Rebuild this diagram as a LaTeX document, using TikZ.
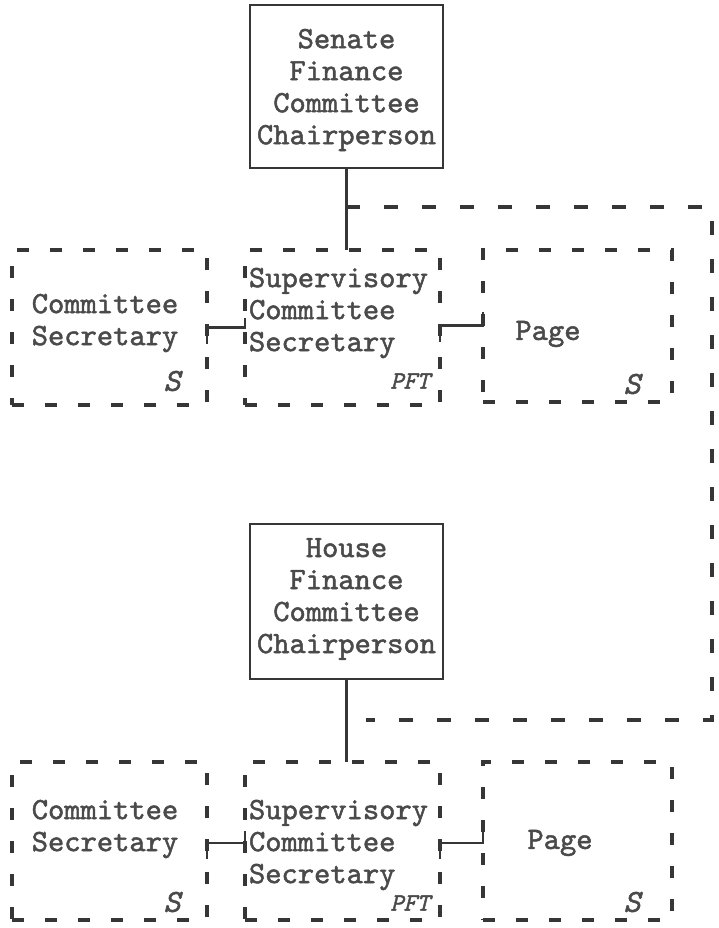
\documentclass[tikz,border=0pt]{standalone}
\usepackage{fontspec}
\newfontfamily\tw{lmmono10-regular.otf}[FakeBold=1.6, ItalicFont=lmmono10-italic.otf, ItalicFeatures={FakeBold=1.6}]
\definecolor{linec}{HTML}{363636}
\definecolor{txtc}{HTML}{4A4A4A}
\begin{document}
\begin{tikzpicture}[x=1pt,y=-1pt,
  every node/.style={inner sep=0pt, outer sep=0pt},
  chairbox/.style={draw=linec, line width=2.8pt, minimum width=193pt},
  unitbox/.style={draw=linec, line width=3.1pt, dash pattern=on 12pt off 21pt},
  txt/.style={text=txtc, font=\tw\fontsize{31}{32}\selectfont},
  tag/.style={text=txtc, font=\tw\fontsize{32}{32}\selectfont\itshape},
  smalltag/.style={text=txtc, font=\tw\fontsize{25}{25}\selectfont\itshape},
  conn/.style={draw=linec, line width=2.8pt},
  loopdash/.style={draw=linec, line width=3.1pt, dash pattern=on 14pt off 24pt}
]
\useasboundingbox (0,0) rectangle (719,928);

% Senate
\node[chairbox, minimum height=163pt] (senate) at (346.5,86.5) {};
\node[txt, align=center] (senatet) at (346.5,90) {Senate\\Finance\\Committee\\Chairperson};

\node[unitbox, minimum width=195pt, minimum height=155pt] (sA) at (109.5,327.5) {};
\node[unitbox, minimum width=195pt, minimum height=155pt] (sB) at (342.5,327.5) {};
\node[unitbox, minimum width=189pt, minimum height=152pt] (sC) at (577.5,326) {};

\node[txt, align=center] (sAt) at (105,323) {Committee\\Secretary};
\node[txt, align=left, anchor=west] (sBt) at (249,313) {Supervisory\\Committee\\Secretary};
\node[txt] (sCt) at (548,334) {Page};
\node[tag] (sAs) at (172,381) {S};
\node[smalltag] (sBs) at (410,381) {PFT};
\node[tag] (sCs) at (632,384) {S};

\draw[conn] (senate.south) -- (senate.south |- sB.north);
\draw[conn] ([yshift=-16pt]sA.east) -- (sA.east) -- (sB.west) -- ([yshift=10pt]sB.west);
\draw[conn] ([yshift=-14pt]sB.east) -- ([yshift=2pt]sB.east) -- ([yshift=2pt]sB.east -| sC.west) -- ([yshift=16pt]sB.east -| sC.west);

\coordinate (t1) at (346,207);
\coordinate (t2) at (712,207);
\coordinate (t3) at (712,720);
\coordinate (t4) at (366,720);
\draw[loopdash] (t1) -- (t2) -- (t3) -- (t4);

% House
\node[chairbox, minimum height=155pt] (house) at (346.5,601.5) {};
\node[txt, align=center] (houset) at (346.5,599) {House\\Finance\\Committee\\Chairperson};

\node[unitbox, minimum width=195pt, minimum height=158pt] (hA) at (109.5,841) {};
\node[unitbox, minimum width=195pt, minimum height=158pt] (hB) at (342.5,841) {};
\node[unitbox, minimum width=189pt, minimum height=158pt] (hC) at (577.5,841) {};

\node[txt, align=center] (hAt) at (105,829) {Committee\\Secretary};
\node[txt, align=left, anchor=west] (hBt) at (249,845) {Supervisory\\Committee\\Secretary};
\node[txt] (hCt) at (560,843) {Page};
\node[tag] (hAs) at (172,902) {S};
\node[smalltag] (hBs) at (410,903) {PFT};
\node[tag] (hCs) at (632,902) {S};

\draw[conn] (house.south) -- (house.south |- hB.north);
\draw[conn] ([yshift=-18pt]hA.east) -- ([yshift=-2pt]hA.east) -- ([yshift=-2pt]hB.west) -- ([yshift=10pt]hB.west);
\draw[conn] ([yshift=-18pt]hB.east) -- ([yshift=-2pt]hB.east) -- ([yshift=-2pt]hB.east -| hC.west) -- ([yshift=12pt]hB.east -| hC.west);
\end{tikzpicture}
\end{document}
